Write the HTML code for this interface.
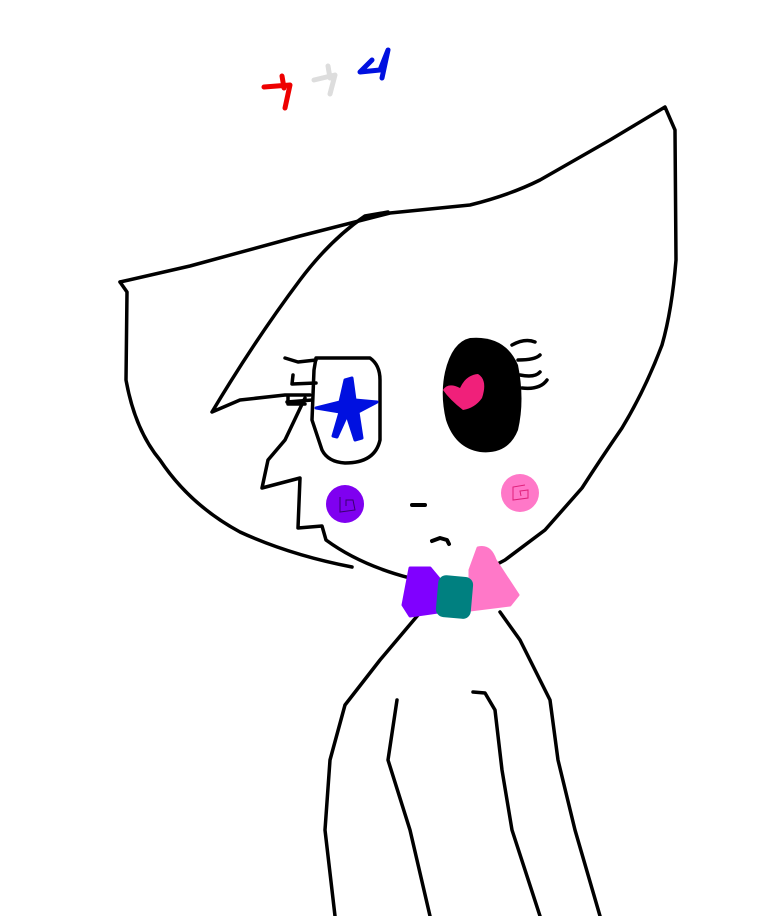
<!DOCTYPE html><html><head><style>body{margin:0;background:#fff}svg{display:block}</style></head><body>
<svg width="768" height="916" viewBox="0 0 768 916" xmlns="http://www.w3.org/2000/svg">
<g fill="none" stroke="#000" stroke-width="3.5" stroke-linecap="round" stroke-linejoin="round">
<path d="M120,282 L190,266 L300,236 L390,213 L470,205 Q510,195 540,180 L610,140 L665,107 L675,130 L676,260 Q672,310 662,345 Q645,390 622,428 Q600,460 582,488 L545,530 L505,560 L490,568"/>
<path d="M120,282 L127,292 L126,380 Q135,430 160,460 Q190,505 240,532 Q290,555 352,567"/>
<path d="M388,212 L365,216 Q330,240 300,280 Q255,340 212,412 L240,400 L285,395 L310,395"/>
<path d="M288,396 L288,404 L305,404"/>
<path d="M305,398 L285,440 L268,460 L262,488 L300,478 L298,528 L322,526 L326,540 Q360,565 410,578"/>
<path d="M316,358 L370,358 Q380,365 380,380 L380,440 Q375,463 345,463 Q328,462 322,450 L312,420 L314,370 Z"/>
<path d="M285,358 L298,362 L316,360 M293,375 L292,384 L316,383 M287,402 L312,400"/>
<path d="M512,345 Q525,338 535,342 M518,360 Q535,360 540,355 M520,375 Q535,378 540,372 M522,388 Q540,390 547,380"/>
<path d="M412,505 L425,505" stroke-width="4"/>
<path d="M432,541 L440,538 L447,540 L449,544" stroke-width="4"/>
<path d="M418,615 L380,660 L345,705 L330,760 L325,830 L335,916"/>
<path d="M397,700 L388,760 L410,830 L430,916"/>
<path d="M500,612 L520,640 L550,700 L558,760 L575,830 L600,916"/>
<path d="M473,692 L485,693 L495,710 L502,770 L512,830 L540,916"/>
</g>
<path d="M345,380 L352,378 L355,400 L377,402 L358,412 L362,438 L355,440 L347,415 L337,437 L333,436 L340,412 L316,408 L340,402 Z" fill="#0010e0" stroke="#0010e0" stroke-width="3" stroke-linejoin="round"/>
<path d="M470,338 Q505,335 518,365 Q525,400 518,430 Q508,455 480,452 Q455,448 446,420 Q440,395 445,372 Q452,342 470,338 Z" fill="#000"/>
<path d="M443,390 Q448,382 460,388 Q466,375 478,374 Q488,380 482,398 Q475,408 463,410 Q450,400 443,390 Z" fill="#f0207a"/>
<circle cx="345" cy="504" r="19" fill="#7f00f0"/>
<circle cx="520" cy="493" r="19" fill="#ff78c8"/>
<path d="M340,497 L340,512 L355,510 L353,500 L346,500 L346,506" fill="none" stroke="#3a0070" stroke-width="1"/>
<path d="M525,485 L513,487 L513,500 L528,498 L528,490 L520,491 L521,496" fill="none" stroke="#e0207a" stroke-width="1"/>
<path d="M410,568 L430,568 L440,580 L438,612 L410,616 L403,605 Z" fill="#8000ff" stroke="#8000ff" stroke-width="3" stroke-linejoin="round"/>
<path d="M478,548 Q490,545 495,560 L518,595 L510,605 L470,610 L470,570 Z" fill="#ff78c8" stroke="#ff78c8" stroke-width="3" stroke-linejoin="round"/>
<rect x="437" y="576" width="35" height="42" rx="8" fill="#008080" transform="rotate(5 454 597)"/>
<g fill="none" stroke-width="5" stroke-linecap="round" stroke-linejoin="round">
<path d="M264,87 L290,85 L285,108 M282,76 L284,88" stroke="#ee0000"/>
<path d="M314,80 L335,75 L330,94 M328,66 L330,78" stroke="#dddddd"/>
<path d="M372,60 L360,72 L380,70 L388,50 L382,78" stroke="#0010e0"/>
</g>
</svg>
</body></html>
